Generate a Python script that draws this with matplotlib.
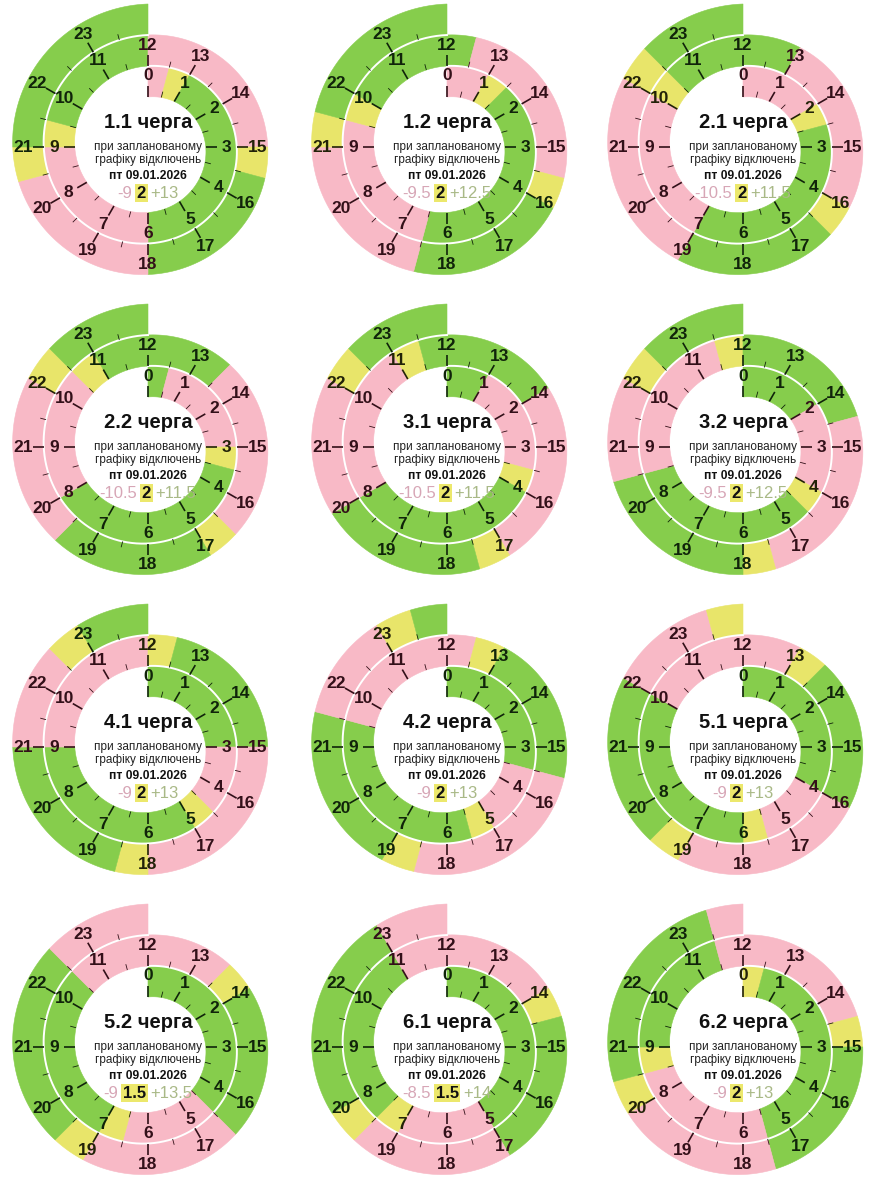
import numpy as np
import matplotlib.pyplot as plt
from matplotlib.patches import Polygon
from matplotlib.offsetbox import TextArea, HPacker, PaddedBox, AnnotationBbox

plt.rcParams['font.family'] = ['Liberation Sans', 'DejaVu Sans']

queues = ['1.1', '1.2', '2.1', '2.2', '3.1', '3.2',
          '4.1', '4.2', '5.1', '5.2', '6.1', '6.2']

# half-hour slots: g = power on, p = outage, y = possible outage
inner = [  # 00:00 - 12:00
    'pyggggggggggppppppyggggg',
    'ppyggggggggggppppppygggg',
    'ppppygggggggggppppppyggg',
    'gpppppygggggggggpppppygg',
    'ggpppppyggggggggppppppyg',
    'ggggppppyggggggggppppppy',
    'ggggggpppyggggggggpppppp',
    'gggggggpppyggggggggppppp',
    'ggggggggpppyggggggggpppp',
    'gggggggggppppygggggggppp',
    'ggggggggggppppygggggggpp',
    'yggggggggggppppppygggggp',
]
outer = [  # 12:00 - 24:00
    'ppppppygggggpppppygggggg',
    'gppppppygggggpppppyggggg',
    'ggppppppygggggppppppyggg',
    'gggppppppygggggpppppyggg',
    'ggggppppppygggggppppyggg',
    'gggggppppppygggggpppyggg',
    'ygggggppppppygggggpppygg',
    'pygggggppppppygggggpppyg',
    'ppygggggppppppygggggpppy',
    'pppygggggpppppyggggggppp',
    'ppppygggggpppppyggggggpp',
    'pppppygggggpppppyggggggp',
]
hours_off = ['-9', '-9.5', '-10.5', '-10.5', '-10.5', '-9.5',
             '-9', '-9', '-9', '-9', '-8.5', '-9']
hours_maybe = ['2', '2', '2', '2', '2', '2', '2', '2', '2', '1.5', '1.5', '2']
hours_on = ['+13', '+12.5', '+11.5', '+11.5', '+11.5', '+12.5',
            '+13', '+13', '+13', '+13.5', '+14', '+13']
date_label = 'пт 09.01.2026'

fill = {'g': '#86cd4c', 'p': '#f8b9c6', 'y': '#e8e56a'}
ink = {'g': '#10240a', 'p': '#331019', 'y': '#222208'}

W_PX, H_PX = 892, 1200
col_x = [148, 447, 743]
row_y = [147, 447, 747, 1047]
R0, BAND = 50.0, 31.0


def rad(t):
    return R0 + BAND * np.asarray(t) / 12.0


def polar(r, t):
    th = np.deg2rad(np.asarray(t) * 30.0)
    return r * np.sin(th), r * np.cos(th)


fig = plt.figure(figsize=(W_PX / 100, H_PX / 100), dpi=100)

for n, q in enumerate(queues):
    cx, cy = col_x[n % 3], row_y[n // 3]
    ax = fig.add_axes([(cx - 150) / W_PX, 1 - (cy + 150) / H_PX,
                       300 / W_PX, 300 / H_PX])
    ax.set_xlim(-150, 150)
    ax.set_ylim(-150, 150)
    ax.set_aspect('equal')
    ax.axis('off')

    slots = inner[n] + outer[n]

    # colour runs along the spiral
    i = 0
    while i < 48:
        j = i
        while j < 48 and slots[j] == slots[i]:
            j += 1
        ts = np.linspace(i / 2, j / 2, 20 * (j - i) + 2)
        xi, yi = polar(rad(ts), ts)
        xo, yo = polar(rad(ts) + BAND, ts)
        pts = np.column_stack([np.r_[xi, xo[::-1]], np.r_[yi, yo[::-1]]])
        ax.add_patch(Polygon(pts, closed=True, facecolor=fill[slots[i]],
                             edgecolor=fill[slots[i]], lw=0.4, zorder=1))
        i = j

    # white spiral between the two rounds
    ts = np.linspace(0, 12, 400)
    xs, ys = polar(rad(ts) + BAND, ts)
    ax.plot(xs, ys, color='white', lw=1.4, zorder=2)

    # hour ticks and labels
    for h in range(24):
        c = ink[slots[2 * h]]
        r = rad(h)
        x0, y0 = polar(r, h)
        x1, y1 = polar(r + 11, h)
        ax.plot([x0, x1], [y0, y1], color=c, lw=1.2, zorder=3,
                solid_capstyle='butt')
        xl, yl = polar(r + 21, h)
        ax.text(xl, yl, str(h), ha='center', va='center', fontsize=12.5,
                fontweight='bold', color=c, zorder=4)
        tm = h + 0.5
        rm = rad(tm)
        x0, y0 = polar(rm, tm)
        x1, y1 = polar(rm + 6, tm)
        ax.plot([x0, x1], [y0, y1], color=ink[slots[2 * h + 1]], lw=0.6,
                zorder=3, solid_capstyle='butt')

    # centre text
    ax.text(0, 25, q + ' черга', ha='center', va='center', fontsize=14.5,
            fontweight='bold', color='#111111', zorder=5)
    ax.text(0, 0, 'при запланованому', ha='center', va='center',
            fontsize=8.5, color='#222222', zorder=5)
    ax.text(0, -13, 'графіку відключень', ha='center', va='center',
            fontsize=8.5, color='#222222', zorder=5)
    ax.text(0, -29, date_label, ha='center', va='center', fontsize=8.7,
            fontweight='bold', color='#111111', zorder=5)

    t_off = TextArea(hours_off[n], textprops=dict(color='#d7a6b6',
                                                  fontsize=12))
    t_mid = PaddedBox(TextArea(hours_maybe[n],
                               textprops=dict(color='#111111', fontsize=12,
                                              fontweight='bold')),
                      pad=1.3, draw_frame=True,
                      patch_attrs=dict(facecolor='#ece86c', edgecolor='none'))
    t_on = TextArea(hours_on[n], textprops=dict(color='#a9b987',
                                                fontsize=12))
    box = HPacker(children=[t_off, t_mid, t_on], align='center', pad=0, sep=2)
    ab = AnnotationBbox(box, (0, -46), xycoords='data', frameon=False,
                        box_alignment=(0.5, 0.5), pad=0)
    ab.set_zorder(6)
    ax.add_artist(ab)

fig.savefig('out.png', dpi=100, facecolor='white')
